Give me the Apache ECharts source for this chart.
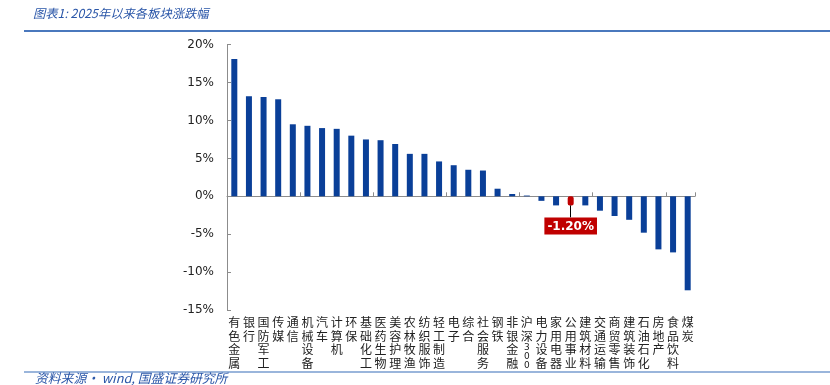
<!DOCTYPE html>
<html>
<head>
<meta charset="utf-8">
<script src="https://cdn.jsdelivr.net/npm/echarts@6/dist/echarts.min.js"></script>
<style>
html,body{margin:0;padding:0;background:#fff;}
#c{width:830px;height:385px;}
</style>
</head>
<body>
<div id="c"></div>
<script>
var titleText = '图表1: 2025年以来各板块涨跌幅';
var sourceText = '资料来源· wind, 国盛证券研究所';
var categories = ['有色金属','银行','国防军工','传媒','通信','机械设备','汽车','计算机','环保','基础化工','医药生物','美容护理','农林牧渔','纺织服饰','轻工制造','电子','综合','社会服务','钢铁','非银金融','沪深300','电力设备','家用电器','公用事业','建筑材料','交通运输','商贸零售','建筑装饰','石油石化','房地产','食品饮料','煤炭'];
var values = [18.1,13.2,13.1,12.8,9.5,9.3,9.0,8.9,8.0,7.5,7.4,6.9,5.6,5.6,4.6,4.1,3.5,3.4,1.0,0.3,0.1,-0.6,-1.2,-1.2,-1.2,-1.9,-2.6,-3.1,-4.8,-7.0,-7.4,-12.4];
var highlightName = '公用事业';
var highlightLabel = '-1.20%';
var highlightLeaderEnd = -2.77;
var yTicks = [-15,-10,-5,0,5,10,15,20];

var blue = '#0a3f98';
var red = '#c00000';

var seriesData = values.map(function(v, i){
  if (categories[i] === highlightName) {
    return {
      value: v,
      itemStyle: {color: red, borderColor: red, borderWidth: 2, borderRadius: 1},
      label: {
        show: true, position: 'bottom', distance: 12,
        formatter: highlightLabel,
        color: '#fff', backgroundColor: red,
        fontFamily: 'DejaVu Sans', fontWeight: 'bold', fontSize: 12,
        padding: [3, 3, 2, 3]
      }
    };
  }
  return v;
});

function fmtLabel(name){
  return name.split('').map(function(ch){
    return /[0-9]/.test(ch) ? '{n|' + ch + '}' : ch;
  }).join('\n');
}

var chart = echarts.init(document.getElementById('c'), null, {renderer: 'canvas'});
chart.setOption({
  animation: false,
  backgroundColor: '#fff',
  graphic: [
    {type: 'text', left: 33, top: 7, style: {text: titleText, font: 'italic 12.3px "Noto Sans CJK SC"', fill: '#2a56a8'}},
    {type: 'rect', shape: {x: 24, y: 30, width: 806, height: 2}, style: {fill: '#4a78bd'}},
    {type: 'rect', shape: {x: 24, y: 371, width: 806, height: 2}, style: {fill: '#9ab5db'}},
    {type: 'text', left: 35, top: 372, style: {text: sourceText, font: 'italic 12.8px "Noto Sans CJK SC"', fill: '#2a56a8'}}
  ],
  grid: {left: 227, right: 135, top: 44.7, bottom: 75, containLabel: false},
  xAxis: [
    {
      type: 'category', data: categories, position: 'bottom',
      axisLine: {show: false, onZero: false}, axisTick: {show: false},
      axisLabel: {
        interval: 0, margin: 6, color: '#222',
        fontFamily: 'Noto Sans CJK SC', fontSize: 12, lineHeight: 13.5,
        formatter: fmtLabel,
        rich: {n: {fontFamily: 'DejaVu Sans', fontSize: 9, lineHeight: 9, color: '#222'}}
      }
    },
    {
      type: 'category', data: categories, position: 'top',
      axisLine: {show: true, onZero: true, lineStyle: {color: '#8c8c8c', width: 1}},
      axisTick: {show: true, inside: false, length: 4, lineStyle: {color: '#8c8c8c'}},
      axisLabel: {show: false}
    }
  ],
  yAxis: {
    type: 'value', min: yTicks[0], max: yTicks[yTicks.length - 1], interval: 5,
    axisLine: {show: true, lineStyle: {color: '#8c8c8c'}},
    axisTick: {show: true, inside: true, length: 4, lineStyle: {color: '#8c8c8c'}},
    splitLine: {show: false},
    axisLabel: {margin: 13, color: '#222', fontFamily: 'DejaVu Sans', fontSize: 12, formatter: '{value}%'}
  },
  series: [{
    type: 'bar', xAxisIndex: 0, data: seriesData, barWidth: 6,
    itemStyle: {color: blue},
    markLine: {
      silent: true, symbol: ['none', 'none'], animation: false,
      label: {show: false},
      lineStyle: {color: '#000', width: 1, type: 'solid'},
      emphasis: {disabled: true},
      data: [[{coord: [highlightName, -1.2]}, {coord: [highlightName, highlightLeaderEnd]}]]
    }
  }]
});
</script>
</body>
</html>
